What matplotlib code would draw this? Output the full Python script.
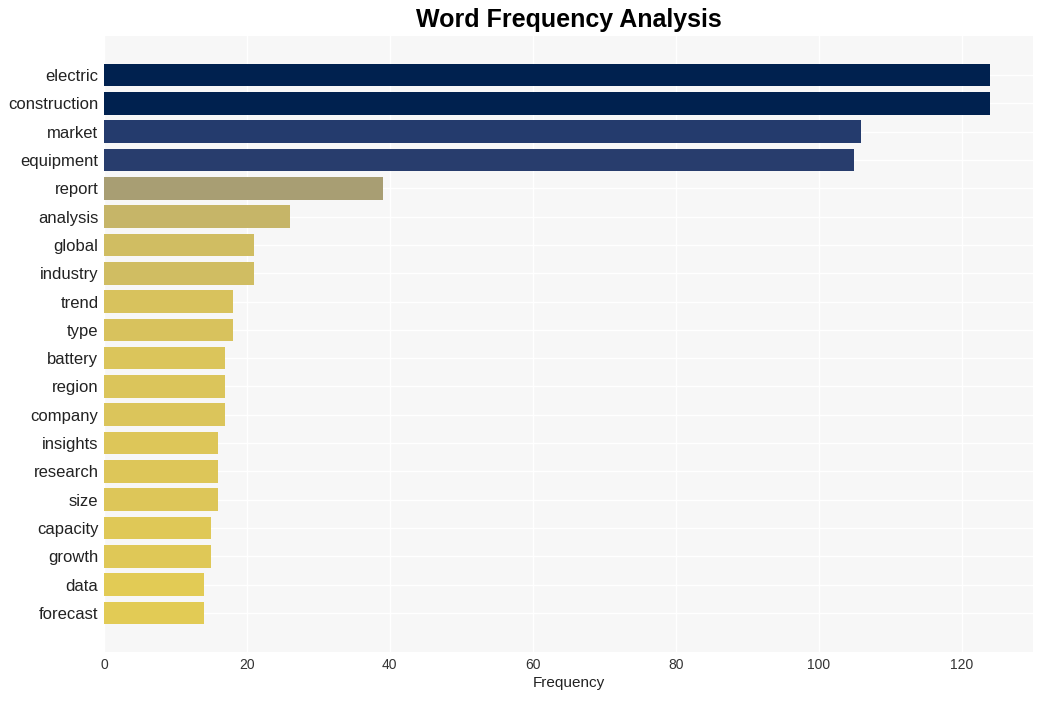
import matplotlib
matplotlib.use('Agg')
import matplotlib.pyplot as plt
import numpy as np

words = ['electric', 'construction', 'market', 'equipment', 'report', 'analysis',
         'global', 'industry', 'trend', 'type', 'battery', 'region', 'company',
         'insights', 'research', 'size', 'capacity', 'growth', 'data', 'forecast']
counts = [124, 124, 106, 105, 39, 26, 21, 21, 18, 18, 17, 17, 17, 16, 16, 16, 15, 15, 14, 14]
colors = ['#00214f', '#00214f', '#243b6d', '#283d6d', '#a89e73', '#c6b568',
          '#d0bd62', '#d0bd62', '#d8c25d', '#d8c25d', '#dbc55b', '#dbc55b', '#dbc55b',
          '#ddc659', '#ddc659', '#ddc659', '#dfc857', '#dfc857', '#e2cb55', '#e2cb55']

plt.rcParams['font.family'] = ['Liberation Sans', 'DejaVu Sans']

fig = plt.figure(figsize=(10.44, 7.01), dpi=100)
ax = fig.add_axes([104 / 1044, 1 - 652 / 701, (1033 - 104) / 1044, (652 - 36) / 701])

y = np.arange(len(words))
ax.barh(y, counts, height=0.8, color=colors, zorder=3)
ax.set_yticks(y)
ax.set_yticklabels(words, fontsize=12, color='#222222')
ax.set_ylim(len(words) - 1 + 1.38, -1.38)
ax.set_xlim(0, 130)
ax.set_xticks([0, 20, 40, 60, 80, 100, 120])
ax.tick_params(axis='x', labelsize=10, colors='#333333', length=0, pad=4)
ax.tick_params(axis='y', length=0, pad=4)

ax.set_facecolor('#f7f7f7')
ax.grid(True, color='white', linewidth=1, zorder=0)
for s in ax.spines.values():
    s.set_visible(False)

ax.set_xlabel('Frequency', fontsize=11, color='#222222', labelpad=3)
fig.text(0.545, 1 - 20 / 701, 'Word Frequency Analysis', ha='center', va='center',
         fontsize=18, fontweight='bold', color='black')

fig.savefig('out.png', dpi=100)
